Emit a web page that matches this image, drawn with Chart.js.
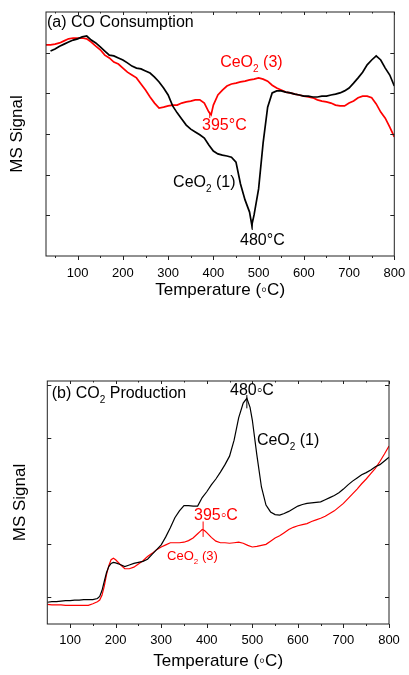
<!DOCTYPE html>
<html>
<head>
<meta charset="utf-8">
<script src="https://cdn.jsdelivr.net/npm/chart.js@4.4.1/dist/chart.umd.min.js"></script>
<style>
  body { margin: 0; background: #fff; }
  #wrapA { position: absolute; left: 0; top: 0; width: 409px; height: 320px; }
  #wrapB { position: absolute; left: 0; top: 340px; width: 409px; height: 335px; }
</style>
</head>
<body>
<div id="wrapA"><canvas id="chartA"></canvas></div>
<div id="wrapB"><canvas id="chartB"></canvas></div>
<script>
// ---- DATA (a) CO consumption ----
const tempTicks = [100, 200, 300, 400, 500, 600, 700, 800];

const tempA1 = [40, 50, 60, 70, 80, 90, 100, 110, 120, 130, 140, 150, 160, 170, 180, 190, 200,
  210, 220, 230, 240, 250, 260, 270, 280, 290, 300, 310, 320, 330, 340, 350, 360, 370, 380, 390,
  400, 410, 420, 430, 440, 450, 460, 470, 480, 485, 490, 500, 510, 520, 530, 540, 550, 560, 570,
  580, 590, 600, 610, 620, 630, 640, 650, 660, 670, 680, 690, 700, 710, 720, 730, 740, 750, 760,
  770, 780, 790, 800];
const coCeO2_1 = [5.04, 5.09, 5.16, 5.21, 5.26, 5.31, 5.34, 5.39, 5.41, 5.31, 5.24, 5.14, 5.04,
  4.94, 4.92, 4.87, 4.82, 4.75, 4.67, 4.62, 4.60, 4.55, 4.50, 4.40, 4.28, 4.13, 3.96, 3.69, 3.52,
  3.37, 3.22, 3.12, 3.05, 2.98, 2.90, 2.73, 2.58, 2.51, 2.48, 2.46, 2.43, 2.31, 1.77, 1.38, 1.08,
  0.76, 1.01, 1.65, 2.78, 3.66, 4.01, 4.06, 4.06, 4.03, 4.01, 3.98, 3.96, 3.93, 3.93, 3.91, 3.91,
  3.93, 3.93, 3.96, 3.98, 4.01, 4.06, 4.13, 4.25, 4.38, 4.52, 4.70, 4.82, 4.92, 4.82, 4.62, 4.45,
  4.18];

const tempA3 = [30, 40, 50, 60, 70, 80, 90, 100, 110, 120, 130, 140, 150, 160, 170, 180, 190, 200,
  210, 220, 230, 240, 250, 260, 270, 280, 290, 300, 310, 320, 330, 340, 350, 360, 370, 380, 390,
  395, 400, 410, 420, 430, 440, 450, 460, 470, 480, 490, 500, 510, 520, 530, 540, 550, 560, 570,
  580, 590, 600, 610, 620, 630, 640, 650, 660, 670, 680, 690, 700, 710, 720, 730, 740, 750, 760,
  770, 780, 790, 800];
const coCeO2_3 = [5.19, 5.19, 5.21, 5.24, 5.29, 5.34, 5.36, 5.36, 5.36, 5.34, 5.26, 5.16, 5.07,
  4.94, 4.87, 4.77, 4.72, 4.62, 4.52, 4.45, 4.38, 4.23, 4.08, 3.91, 3.76, 3.64, 3.66, 3.69, 3.71,
  3.71, 3.76, 3.79, 3.81, 3.84, 3.84, 3.76, 3.54, 3.47, 3.71, 3.96, 4.08, 4.18, 4.23, 4.25, 4.28,
  4.30, 4.33, 4.35, 4.38, 4.35, 4.30, 4.20, 4.13, 4.08, 4.03, 4.01, 3.98, 3.96, 3.93, 3.91, 3.89,
  3.84, 3.81, 3.79, 3.76, 3.71, 3.69, 3.69, 3.76, 3.81, 3.89, 3.93, 3.93, 3.89, 3.74, 3.54, 3.39,
  3.17, 2.93];

// ---- DATA (b) CO2 production ----
const tempB1 = [50, 60, 70, 80, 90, 100, 110, 120, 130, 140, 150, 160, 165, 170, 175, 180, 185,
  190, 195, 200, 210, 220, 230, 240, 250, 260, 270, 280, 290, 300, 310, 320, 330, 340, 350, 360,
  370, 380, 390, 400, 410, 420, 430, 440, 450, 460, 470, 480, 488, 495, 500, 510, 520, 530, 540,
  550, 560, 570, 580, 590, 600, 610, 620, 630, 640, 650, 660, 670, 680, 690, 700, 710, 720, 730,
  740, 750, 760, 770, 780, 790, 800];
const co2CeO2_1 = [0.91, 0.92, 0.92, 0.93, 0.94, 0.94, 0.95, 0.95, 0.96, 0.96, 0.96, 0.98, 1.02,
  1.13, 1.30, 1.47, 1.58, 1.64, 1.66, 1.65, 1.62, 1.58, 1.61, 1.64, 1.66, 1.68, 1.72, 1.81, 1.90,
  1.99, 2.14, 2.31, 2.50, 2.63, 2.73, 2.73, 2.72, 2.72, 2.88, 2.99, 3.12, 3.23, 3.36, 3.50, 3.66,
  3.96, 4.38, 4.66, 4.75, 4.58, 4.34, 3.68, 3.08, 2.74, 2.61, 2.56, 2.55, 2.58, 2.62, 2.67, 2.72,
  2.75, 2.77, 2.78, 2.79, 2.80, 2.84, 2.88, 2.92, 2.97, 3.04, 3.12, 3.19, 3.25, 3.31, 3.35, 3.40,
  3.46, 3.50, 3.57, 3.64];

const tempB3 = [50, 60, 70, 80, 90, 100, 110, 120, 130, 140, 150, 160, 165, 170, 175, 180, 185,
  190, 195, 200, 210, 220, 230, 240, 250, 260, 270, 280, 290, 300, 310, 320, 330, 340, 350, 360,
  370, 380, 385, 390, 395, 400, 410, 420, 430, 440, 450, 460, 470, 480, 490, 500, 510, 520, 530,
  540, 550, 560, 570, 580, 590, 600, 610, 620, 630, 640, 650, 660, 670, 680, 690, 700, 710, 720,
  730, 740, 750, 760, 770, 780, 790, 800];
const co2CeO2_3 = [0.87, 0.86, 0.86, 0.86, 0.85, 0.85, 0.85, 0.85, 0.85, 0.85, 0.88, 0.92, 0.95,
  1.04, 1.21, 1.43, 1.60, 1.71, 1.74, 1.71, 1.62, 1.54, 1.54, 1.57, 1.63, 1.69, 1.77, 1.83, 1.90,
  1.95, 1.99, 2.03, 2.03, 2.03, 2.04, 2.07, 2.12, 2.20, 2.24, 2.28, 2.26, 2.22, 2.13, 2.06, 2.03,
  2.03, 2.02, 2.03, 2.04, 2.02, 1.98, 1.95, 1.96, 1.98, 2.00, 2.06, 2.12, 2.16, 2.22, 2.28, 2.32,
  2.35, 2.37, 2.39, 2.43, 2.46, 2.49, 2.53, 2.58, 2.63, 2.70, 2.77, 2.86, 2.95, 3.04, 3.14, 3.23,
  3.33, 3.43, 3.56, 3.70, 3.85];

const FONT = '"Liberation Sans", Arial, sans-serif';
const RED = "#ff0000";

function pairs(xs, ys) {
  return xs.map((x, i) => ({ x: x, y: ys[i] }));
}

// text with subscripts: parts = [[text, isSub], ...]
function drawParts(ctx, parts, x, y, size, color) {
  ctx.fillStyle = color;
  ctx.textBaseline = "middle";
  ctx.textAlign = "left";
  parts.forEach(([t, sub]) => {
    const s = sub ? Math.round(size * 0.62) : size;
    ctx.font = s + "px " + FONT;
    ctx.fillText(t, x, sub ? y + size * 0.4 : y);
    x += ctx.measureText(t).width;
  });
}

// frame, ticks and labels
const marks = {
  id: "marks",
  afterDraw(chart, args, opts) {
    const { ctx, chartArea: a, scales } = chart;
    const x = scales.x, y = scales.y;
    ctx.save();
    ctx.strokeStyle = "#222";
    ctx.lineWidth = 1;
    ctx.strokeRect(a.left, a.top, a.right - a.left, a.bottom - a.top);

    ctx.beginPath();
    for (let v = 50; v <= 800; v += 50) {
      if (v <= x.min) continue;
      const px = Math.round(x.getPixelForValue(v)) + 0.5;
      const major = v % 100 === 0;
      ctx.moveTo(px, a.bottom);
      ctx.lineTo(px, a.bottom + (major ? 4 : 2));
      ctx.moveTo(px, a.top);
      ctx.lineTo(px, a.top + (major ? 3 : 1.5));
    }
    opts.yTicks.forEach((v) => {
      const py = Math.round(y.getPixelForValue(v)) + 0.5;
      ctx.moveTo(a.left, py);
      ctx.lineTo(a.left + 4, py);
      ctx.moveTo(a.right, py);
      ctx.lineTo(a.right - 4, py);
    });
    ctx.stroke();

    // little marker lines at the peaks
    opts.lines.forEach((l) => {
      ctx.strokeStyle = l.color;
      ctx.beginPath();
      const px = x.getPixelForValue(l.x);
      ctx.moveTo(px, y.getPixelForValue(l.y1));
      ctx.lineTo(px, y.getPixelForValue(l.y2));
      ctx.stroke();
    });

    drawParts(ctx, opts.title.parts, a.left + opts.title.dx, a.top + opts.title.dy, 16, "#000");
    opts.labels.forEach((l) => {
      drawParts(ctx, l.parts, x.getPixelForValue(l.x), y.getPixelForValue(l.y), l.size, l.color);
    });
    ctx.restore();
  },
};

function makeChart(id, cfg) {
  return new Chart(document.getElementById(id).getContext("2d"), {
    type: "line",
    data: {
      datasets: [
        {
          data: pairs(cfg.t1, cfg.v1),
          borderColor: "#000",
          borderWidth: cfg.lw,
          pointRadius: 0,
        },
        {
          data: pairs(cfg.t3, cfg.v3),
          borderColor: RED,
          borderWidth: cfg.lw,
          pointRadius: 0,
        },
      ],
    },
    options: {
      responsive: true,
      maintainAspectRatio: false,
      animation: false,
      layout: { padding: { top: cfg.padTop, right: cfg.padRight, left: 0, bottom: 0 } },
      plugins: {
        legend: { display: false },
        tooltip: { enabled: false },
        marks: cfg.marks,
      },
      scales: {
        x: {
          type: "linear",
          min: cfg.xMin,
          max: 800,
          grid: { display: false },
          border: { display: false },
          afterBuildTicks: (s) => {
            s.ticks = tempTicks.map((v) => ({ value: v }));
          },
          afterFit: (s) => {
            s.height = cfg.xHeight;
          },
          ticks: {
            color: "#000",
            padding: cfg.tickPad,
            maxRotation: 0,
            autoSkip: false,
            font: { family: FONT, size: 13 },
          },
          title: {
            display: true,
            text: "Temperature (\u25E6C)",
            color: "#000",
            font: { family: FONT, size: 17 },
            padding: { top: 0, bottom: cfg.titlePad },
          },
        },
        y: {
          min: cfg.yMin,
          max: cfg.yMax,
          grid: { display: false },
          border: { display: false },
          ticks: { display: false },
          afterFit: (s) => {
            s.width = cfg.yWidth;
          },
          title: {
            display: true,
            text: "MS Signal",
            color: "#000",
            font: { family: FONT, size: 17 },
            padding: { top: cfg.yTitlePad, bottom: 0 },
          },
        },
      },
    },
    plugins: [marks],
  });
}

const sub2 = (pre, post) => [[pre, 0], ["2", 1], [post, 0]];

makeChart("chartA", {
  t1: tempA1, v1: coCeO2_1, t3: tempA3, v3: coCeO2_3,
  lw: 1.7, xMin: 30, yMin: 0, yMax: 6,
  padTop: 12, padRight: 14.7, xHeight: 64, yWidth: 46,
  tickPad: 2, titlePad: 19, yTitlePad: 7,
  marks: {
    yTicks: [1, 2, 3, 4, 5],
    title: { parts: [["(a) CO Consumption", 0]], dx: 1, dy: 10.5 },
    lines: [
      { x: 486, y1: 0.9, y2: 0.64, color: "#000" },
      { x: 392, y1: 3.55, y2: 3.39, color: RED },
    ],
    labels: [
      { x: 415, y: 4.75, size: 16, color: RED, parts: sub2("CeO", " (3)") },
      { x: 375, y: 3.2, size: 16, color: RED, parts: [["395\u00B0C", 0]] },
      { x: 311, y: 1.81, size: 16, color: "#000", parts: sub2("CeO", " (1)") },
      { x: 459, y: 0.39, size: 16, color: "#000", parts: [["480\u00B0C", 0]] },
    ],
  },
});

makeChart("chartB", {
  t1: tempB1, v1: co2CeO2_1, t3: tempB3, v3: co2CeO2_3,
  lw: 1.2, xMin: 50, yMin: 0.5, yMax: 5.075,
  padTop: 41, padRight: 20, xHeight: 51, yWidth: 47.3,
  tickPad: 1, titlePad: 3, yTitlePad: 10,
  marks: {
    yTicks: [1, 2, 3, 4, 5],
    title: { parts: sub2("(b) CO", " Production"), dx: 4.4, dy: 13 },
    lines: [
      { x: 488, y1: 4.81, y2: 4.56, color: "#000" },
      { x: 392, y1: 2.43, y2: 2.14, color: RED },
    ],
    labels: [
      { x: 451, y: 4.9, size: 16, color: "#000", parts: [["480\u25E6C", 0]] },
      { x: 510, y: 3.95, size: 16, color: "#000", parts: sub2("CeO", " (1)") },
      { x: 372, y: 2.54, size: 16, color: RED, parts: [["395\u25E6C", 0]] },
      { x: 313, y: 1.77, size: 13, color: RED, parts: sub2("CeO", " (3)") },
    ],
  },
});
</script>
</body>
</html>
